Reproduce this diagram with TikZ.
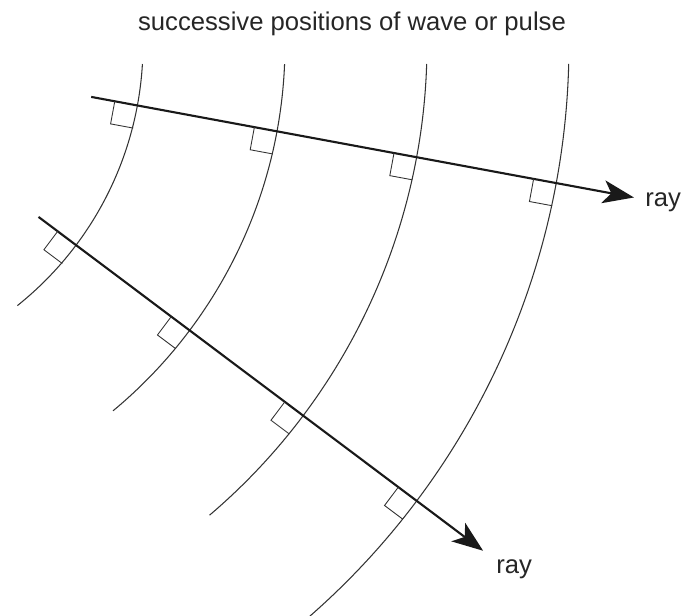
\documentclass[tikz,border=0pt]{standalone}
\usepackage{fontspec}
\setmainfont{Liberation Sans}
\usetikzlibrary{arrows.meta, calc}

\begin{document}
\begin{tikzpicture}[
    x=0.02cm, y=0.02cm,
    front/.style={line width=0.6pt, draw=black!80},
    raypath/.style={line width=1.2pt, draw=black!90, -{Stealth[length=6.2mm, width=4.6mm, inset=1.6mm]}},
    rightangle/.style={line width=0.5pt, draw=black!80},
    label/.style={font=\fontsize{14.6}{17}\selectfont, text=black!85, inner sep=0pt}
]
\useasboundingbox (0,0) rectangle (681,-616);

% common centre of the wavefronts
\coordinate (src) at (-191,-44.6);

% Title
\node[label, anchor=base] (title) at (352,-30) {successive positions of wave or pulse};

% Wavefronts
\foreach \r/\a/\b in {334/-3.33/-51.4, 476/-2.34/-50.3, 618/-1.80/-49.6, 760/-1.46/-48.8}
  \draw[front] (src) ++(\a:\r) arc[start angle=\a, end angle=\b, radius=\r];

% Rays
\coordinate (upper start) at ($(src)+(-10.5:287)$);
\coordinate (upper end) at ($(src)+(-10.5:839)$);
\coordinate (lower start) at ($(src)+(-36.9:287)$);
\coordinate (lower end) at ($(src)+(-36.9:843)$);

\draw[raypath] (upper start) -- (upper end);
\draw[raypath] (lower start) -- (lower end);

% Right-angle marks
\foreach \r in {334,476,618,760} {
  \draw[rightangle, shift={(src)}, rotate=-10.5] (\r-23,0) -- (\r-23,-23) -- (\r,-23);
  \draw[rightangle, shift={(src)}, rotate=-36.9] (\r-23,0) -- (\r-23,-23) -- (\r,-23);
}

% Labels
\node[label, anchor=base west] (upper label) at (645,-206.7) {ray};
\node[label, anchor=base west] (lower label) at (496,-573.3) {ray};

\end{tikzpicture}
\end{document}
